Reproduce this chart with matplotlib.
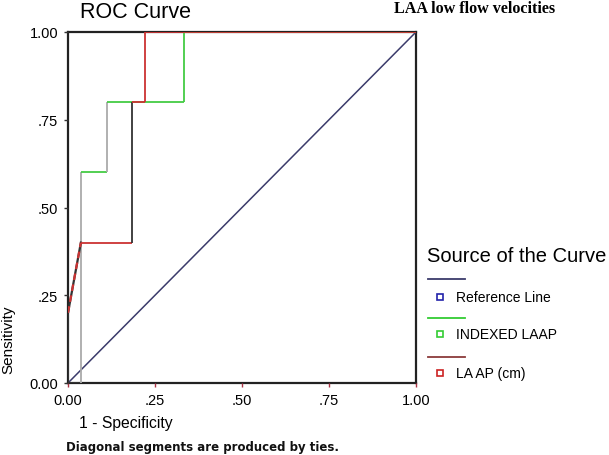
import matplotlib
matplotlib.use("Agg")
import matplotlib.pyplot as plt
from matplotlib.lines import Line2D

# ---- data ----
ref_x = [0.0, 1.0]
ref_y = [0.0, 1.0]

indexed_fpr = [0.0, 0.037, 0.037, 0.111, 0.111, 0.333, 0.333, 1.0]
indexed_tpr = [0.0, 0.0, 0.6, 0.6, 0.8, 0.8, 1.0, 1.0]

laap_fpr = [0.0, 0.0, 0.037, 0.185, 0.185, 0.222, 0.222, 1.0]
laap_tpr = [0.0, 0.2, 0.4, 0.4, 0.8, 0.8, 1.0, 1.0]

tick_vals = [0.0, 0.25, 0.5, 0.75, 1.0]
tick_labels = ["0.00", ".25", ".50", ".75", "1.00"]

legend_labels = ["Reference Line", "INDEXED LAAP", "LA AP (cm)"]
line_colors = ["#3b3b6b", "#33cc33", "#8b3a3a"]
marker_colors = ["#2222aa", "#33cc33", "#cc2222"]

# per-segment styling (as rendered by the original software)
G, GR, DK, R = "#44cc44", "#aaaaaa", "#333333", "#cc3333"
indexed_seg_colors = [DK, GR, G, GR, G, G, G]
laap_seg_colors = [DK, "dash", R, DK, R, R, R]

plt.rcParams['font.family'] = ['Liberation Sans', 'DejaVu Sans']

fig = plt.figure(figsize=(6.09, 4.56), dpi=100)
ax = fig.add_axes([68/609, 1-384/456, 348/609, 351/456])


def draw_curve(xs, ys, colors, lw=1.3, z=3):
    for i in range(len(xs) - 1):
        seg_x = [xs[i], xs[i + 1]]
        seg_y = [ys[i], ys[i + 1]]
        c = colors[i]
        if c == "dash":
            ax.plot(seg_x, seg_y, color="#333333", lw=lw + 0.3, zorder=z)
            ax.plot(seg_x, seg_y, color="#cc3333", lw=lw + 0.3, zorder=z,
                    dashes=(3, 2))
        else:
            ax.plot(seg_x, seg_y, color=c, lw=lw, zorder=z,
                    solid_capstyle='butt')


ax.plot(ref_x, ref_y, color=line_colors[0], lw=1.1, zorder=2)
draw_curve(indexed_fpr, indexed_tpr, indexed_seg_colors, z=3)
draw_curve(laap_fpr, laap_tpr, laap_seg_colors, z=4)

ax.set_xlim(0, 1)
ax.set_ylim(0, 1)
ax.set_xticks(tick_vals)
ax.set_xticklabels(tick_labels)
ax.set_yticks(tick_vals)
ax.set_yticklabels(tick_labels)
ax.tick_params(axis='both', direction='out', length=3, width=1,
               labelsize=10.5, pad=4)
ax.tick_params(axis='x', color='#aa3344')
ax.tick_params(axis='y', color='#333333')
for s in ax.spines.values():
    s.set_color('#222222')
    s.set_linewidth(1.6)
    s.set_zorder(1)

fig.text(80/609, 1-12/456, "ROC Curve", fontsize=15.5, ha='left', va='center')
fig.text(394/609, 1-9/456, "LAA low flow velocities", fontsize=11.6,
         family='Liberation Serif', weight='bold', ha='left', va='center')
fig.text(8/609, 1-340/456, "Sensitivity", fontsize=11, rotation=90,
         ha='center', va='center')
fig.text(79/609, 1-424/456, "1 - Specificity", fontsize=11.3,
         ha='left', va='center')
fig.text(66/609, 1-448/456, "Diagonal segments are produced by ties.",
         fontsize=8.5, family='DejaVu Sans', weight='bold', ha='left',
         va='center', color='#111111')

# legend (manual, figure coords)
fig.text(427/609, 1-257/456, "Source of the Curve", fontsize=14.5,
         ha='left', va='center')
line_y = [280, 319, 358]
lab_y = [298, 335, 374]
for i in range(3):
    fig.add_artist(Line2D([428/609, 465/609], [1-line_y[i]/456]*2,
                          color=line_colors[i], lw=1.3))
    fig.add_artist(Line2D([440/609], [1-lab_y[i]/456], marker='s',
                          markersize=4.5, markerfacecolor='white',
                          markeredgecolor=marker_colors[i], markeredgewidth=1.2,
                          linestyle='none'))
    fig.text(456/609, 1-lab_y[i]/456, legend_labels[i], fontsize=10,
             ha='left', va='center')

fig.savefig("out.png", dpi=100)
